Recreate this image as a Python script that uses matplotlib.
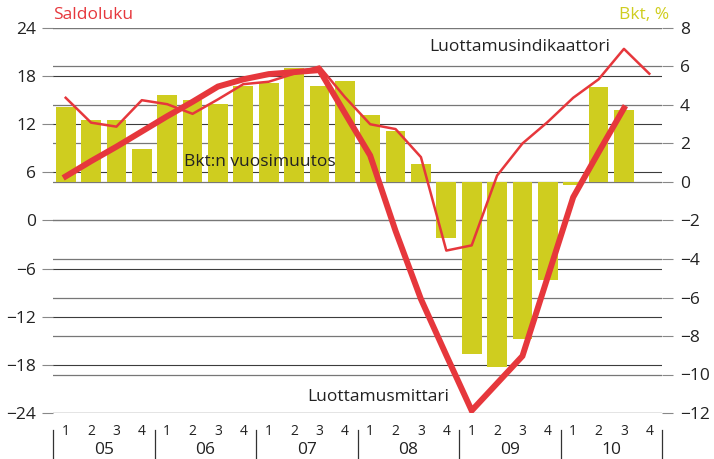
import matplotlib.pyplot as plt
import numpy as np

plt.rcParams['font.family'] = ['Open Sans', 'DejaVu Sans']

# Neljännekset 2005Q1 - 2010Q4
quarters = ['1', '2', '3', '4'] * 6
years = ['05', '06', '07', '08', '09', '10']

# Bkt:n vuosimuutos, % (oikea asteikko)
gdp = [3.9, 3.2, 3.2, 1.7, 4.5, 4.25, 4.05, 5.0, 5.15, 5.9, 5.0, 5.25,
       3.5, 2.65, 0.95, -2.9, -8.95, -9.6, -8.15, -5.1, -0.15, 4.95, 3.75]

# Luottamusmittari (paksu viiva, vasen asteikko)
meter = [5.5, 7.4, 9.2, 11.1, 13.0, 14.8, 16.7, 17.6, 18.25, 18.5, 18.75,
         13.4, 8.1, -1.3, -9.8, -16.8, -23.7, -20.3, -16.9, -7.0, 2.9, 8.5, 14.0]

# Luottamusindikaattori (ohut viiva, vasen asteikko)
indicator = [15.3, 12.2, 11.7, 15.0, 14.5, 13.3, 15.1, 17.0, 17.3, 18.3, 19.2,
             15.4, 12.0, 11.4, 7.9, -3.75, -3.1, 5.6, 9.6, 12.3, 15.3, 17.6, 21.4, 18.3]

left_ticks = [24, 18, 12, 6, 0, -6, -12, -18, -24]
right_ticks = [8, 6, 4, 2, 0, -2, -4, -6, -8, -10, -12]

red = '#e6373c'
olive = '#cfcd1f'
grid_c = '#3c3c3c'

fig = plt.figure(figsize=(7.14, 4.59), dpi=100)
ax = fig.add_axes([53 / 714, 1 - 413 / 459, 609 / 714, 385 / 459])
ax2 = ax.twinx()

ax.set_xlim(-0.5, 23.5)
ax.set_ylim(-24, 24)
ax2.set_ylim(-12, 8)

for s in ax.spines.values():
    s.set_visible(False)
for s in ax2.spines.values():
    s.set_visible(False)

# vaakaviivat
for v in left_ticks:
    ax.axhline(v, color=grid_c, lw=0.8, zorder=0)
for v in right_ticks:
    ax2.axhline(v, color='#777777', lw=0.9, zorder=0)

x = np.arange(len(quarters))
ax2.bar(x[:len(gdp)], gdp, width=0.78, color=olive, zorder=2)

ax2.plot(x[:len(meter)], meter, color=red, lw=4.3, zorder=4,
         solid_joinstyle='miter', transform=ax.transData)
ax2.plot(x[:len(indicator)], indicator, color=red, lw=1.8, zorder=5,
         transform=ax.transData)

ax.set_yticks(left_ticks)
ax.set_yticklabels([str(v).replace('-', '\u2212') for v in left_ticks])
ax2.set_yticks(right_ticks)
ax2.set_yticklabels([str(v).replace('-', '\u2212') for v in right_ticks])
ax.tick_params(axis='y', length=8, width=0.8, color='#888888', pad=4,
               labelsize=12.5, labelcolor='#222222')
ax2.tick_params(axis='y', length=8, width=0.8, color='#888888', pad=5,
                labelsize=12.5, labelcolor='#222222')

ax.set_xticks(x)
ax.set_xticklabels(quarters)
ax.tick_params(axis='x', length=0, pad=8, labelsize=10, labelcolor='#222222')

xt = ax.get_xaxis_transform()
for i, yr in enumerate(years):
    ax.text(4 * i + 1.5, -0.097, yr, transform=xt, ha='center', va='center',
            fontsize=12.5, color='#222222')
for b in np.arange(-0.5, 24, 4):
    ax.plot([b, b], [-0.045, -0.125], transform=xt, color='#333333',
            lw=0.9, clip_on=False)

ax.text(0, 1.034, 'Saldoluku', transform=ax.transAxes, ha='left', va='center',
        fontsize=12.5, color=red)
ax.text(1.012, 1.034, 'Bkt, %', transform=ax.transAxes, ha='right', va='center',
        fontsize=12.5, color=olive)

ax2.text(7.66, 7.25, 'Bkt:n vuosimuutos', fontsize=12.5, color='#222222',
         ha='center', va='center', zorder=6, transform=ax.transData)
ax2.text(17.9, 21.6, 'Luottamusindikaattori', fontsize=12.5, color='#222222',
         ha='center', va='center', zorder=6, transform=ax.transData)
ax2.text(12.3, -22.0, 'Luottamusmittari', fontsize=12.5, color='#222222',
         ha='center', va='center', zorder=6, transform=ax.transData)

fig.savefig('out.png', dpi=100)
